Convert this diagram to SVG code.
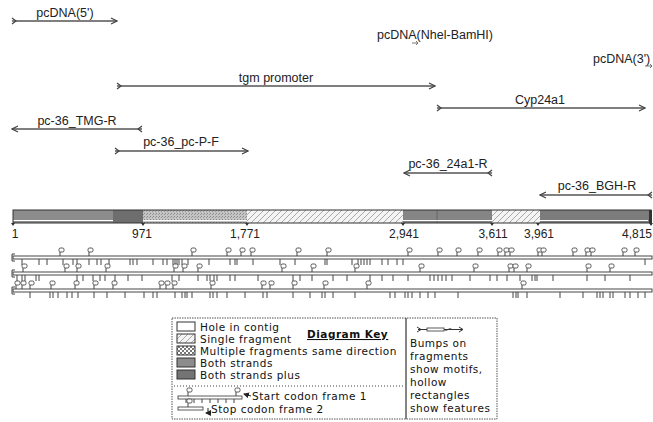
<svg xmlns="http://www.w3.org/2000/svg" width="653" height="422" viewBox="0 0 653 422">
<style>
.lbl{font-family:"Liberation Sans",Arial,sans-serif;font-size:12.5px;fill:#222}
.num{font-family:"Liberation Sans",Arial,sans-serif;font-size:12px;fill:#222}
.key{font-family:"DejaVu Sans","Liberation Sans",sans-serif;font-size:10.5px;letter-spacing:0.5px;fill:#111}
.feat{stroke:#555;stroke-width:1.3;fill:none;marker-end:url(#head);marker-start:url(#tail)}
.trk{fill:#fff;stroke:#333;stroke-width:0.9}
.tick{stroke:#444;stroke-width:1;fill:none}
.seg{stroke:none}
</style>
<defs>
<marker id="head" viewBox="0 0 8 8" refX="7" refY="4" markerWidth="8" markerHeight="8" markerUnits="userSpaceOnUse" orient="auto">
<path d="M1,1 L7,4 L1,7" fill="none" stroke="#444" stroke-width="1.2"/>
</marker>
<marker id="tail" viewBox="0 0 8 8" refX="1" refY="4" markerWidth="8" markerHeight="8" markerUnits="userSpaceOnUse" orient="auto">
<path d="M1,1 L5,4 L1,7" fill="none" stroke="#444" stroke-width="1.2"/>
</marker>
<marker id="lhead" viewBox="0 0 6 6" refX="5" refY="3" markerWidth="6" markerHeight="6" markerUnits="userSpaceOnUse" orient="auto">
<path d="M0,0 L6,3 L0,6 Z" fill="#222"/>
</marker>
<pattern id="hatch" width="6" height="6" patternUnits="userSpaceOnUse">
<rect width="6" height="6" fill="#f4f4f4"/>
<path d="M-1,7 L7,-1 M-1,1 L1,-1 M5,7 L7,5" stroke="#a8a8a8" stroke-width="1"/>
</pattern>
<pattern id="speck" width="3" height="3" patternUnits="userSpaceOnUse">
<rect width="3" height="3" fill="#c4c4c4"/>
<rect x="0" y="0" width="1" height="1" fill="#888"/>
<rect x="2" y="1" width="1" height="1" fill="#999"/>
</pattern>
<pattern id="check" width="4" height="4" patternUnits="userSpaceOnUse">
<rect width="4" height="4" fill="#fff"/>
<rect x="0" y="0" width="2" height="2" fill="#777"/>
<rect x="2" y="2" width="2" height="2" fill="#777"/>
</pattern>
<symbol id="bump" overflow="visible">
<rect x="-1" y="-9" width="5" height="4" rx="1.5" fill="#fff" stroke="#444" stroke-width="0.9"/>
<path d="M0,-5 V-1" stroke="#444" stroke-width="1"/>
</symbol>
</defs>

<g id="features">
<g id="f-pcdna5">
<text class="lbl" x="65" y="17" text-anchor="middle">pcDNA(5')</text>
<line class="feat" x1="12" y1="21" x2="117" y2="21"/>
</g>
<g id="f-nhei">
<text class="lbl" x="435" y="39" text-anchor="middle">pcDNA(Nhel-BamHI)</text>
<path d="M412,43 L418,43 M416,41 L418,43 L416,45" stroke="#555" stroke-width="0.8" fill="none"/>
</g>
<g id="f-pcdna3">
<text class="lbl" x="593" y="63">pcDNA(3')</text>
<path d="M645,66 L652,66 M650,64 L652,66 L650,68" stroke="#555" stroke-width="0.8" fill="none"/>
</g>
<g id="f-tgm">
<text class="lbl" x="276" y="82" text-anchor="middle">tgm promoter</text>
<line class="feat" x1="117" y1="86" x2="435" y2="86"/>
</g>
<g id="f-cyp">
<text class="lbl" x="540" y="104" text-anchor="middle">Cyp24a1</text>
<line class="feat" x1="437" y1="108" x2="645" y2="108"/>
</g>
<g id="f-tmgr">
<text class="lbl" x="77" y="125" text-anchor="middle">pc-36_TMG-R</text>
<line class="feat" x1="142" y1="129" x2="12" y2="129"/>
</g>
<g id="f-pcpf">
<text class="lbl" x="181" y="146" text-anchor="middle">pc-36_pc-P-F</text>
<line class="feat" x1="115" y1="151" x2="248" y2="151"/>
</g>
<g id="f-24a1r">
<text class="lbl" x="448" y="168" text-anchor="middle">pc-36_24a1-R</text>
<line class="feat" x1="492" y1="173" x2="404" y2="173"/>
</g>
<g id="f-bghr">
<text class="lbl" x="597" y="190" text-anchor="middle">pc-36_BGH-R</text>
<line class="feat" x1="652" y1="195" x2="540" y2="195"/>
</g>
</g>

<g id="contig">
<rect class="seg" x="13" y="210" width="100" height="13" fill="#8c8c8c"/>
<rect class="seg" x="113" y="210" width="30" height="13" fill="#6e6e6e"/>
<rect class="seg" x="143" y="210" width="104" height="13" fill="url(#speck)"/>
<rect class="seg" x="247" y="210" width="156" height="13" fill="url(#hatch)"/>
<rect class="seg" x="403" y="210" width="89" height="13" fill="#858585"/>
<rect class="seg" x="492" y="210" width="48" height="13" fill="url(#hatch)"/>
<rect class="seg" x="540" y="210" width="111" height="13" fill="#7c7c7c"/>
<line x1="437" y1="210" x2="437" y2="223" stroke="#666" stroke-width="1"/>
<path d="M13,220.5 H113 M143,220.5 H247 M403,220.5 H492 M540,220.5 H648" stroke="#fff" stroke-width="1.2"/>
<rect x="13" y="210" width="638" height="13" fill="none" stroke="#333" stroke-width="1"/>
<rect x="649" y="210" width="3" height="13" fill="#333"/>
<g fill="#333">
<path d="M11,223 h4 l-2,3 z M141,223 h4 l-2,3 z M245,223 h4 l-2,3 z M401,223 h4 l-2,3 z M490,223 h4 l-2,3 z M536,223 h4 l-2,3 z M649,223 h4 l-2,3 z"/>
</g>
<text class="num" x="15" y="238" text-anchor="middle">1</text>
<text class="num" x="142" y="238" text-anchor="middle">971</text>
<text class="num" x="245" y="238" text-anchor="middle">1,771</text>
<text class="num" x="404" y="238" text-anchor="middle">2,941</text>
<text class="num" x="493" y="238" text-anchor="middle">3,611</text>
<text class="num" x="539" y="238" text-anchor="middle">3,961</text>
<text class="num" x="652" y="238" text-anchor="end">4,815</text>
</g>

<g id="track1">
<rect class="trk" x="13" y="256" width="639" height="3"/>
<path class="tick" d="M12,254 V261 M12,254 H15 M12,261 H15"/>
<path class="tick" d="M22,259v6M39,259v6M47,259v6M63,259v6M73,259v6M77,259v6M89,259v6M97,259v6M101,259v6M109,259v6M130,259v6M133,259v6M137,259v6M153,259v6M163,259v6M167,259v6M173,259v6M175,259v6M177,259v6M179,259v6M182,259v6M188,259v6M209,259v6M230,259v6M235,259v6M237,259v6M253,259v6M280,259v6M295,259v6M325,259v6M327,259v6M352,259v6M358,259v6M361,259v6M364,259v6M367,259v6M370,259v6M382,259v6M388,259v6M397,259v6M403,259v6M645,259v6"/>
<g transform="translate(0,257)">
<use href="#bump" x="60"/><use href="#bump" x="89"/><use href="#bump" x="192"/><use href="#bump" x="227"/><use href="#bump" x="241"/><use href="#bump" x="251"/><use href="#bump" x="297"/><use href="#bump" x="327"/><use href="#bump" x="408"/><use href="#bump" x="438"/><use href="#bump" x="457"/><use href="#bump" x="478"/><use href="#bump" x="498"/><use href="#bump" x="505"/><use href="#bump" x="510"/><use href="#bump" x="538"/><use href="#bump" x="542"/><use href="#bump" x="573"/><use href="#bump" x="586"/><use href="#bump" x="591"/><use href="#bump" x="623"/><use href="#bump" x="635"/>
</g>
</g>

<g id="track2">
<rect class="trk" x="13" y="272" width="639" height="3"/>
<path class="tick" d="M12,270 V277 M12,270 H15 M12,277 H15"/>
<path class="tick" d="M17,275v6M22,275v6M25,275v6M36,275v6M39,275v6M77,275v6M83,275v6M93,275v6M100,275v6M105,275v6M115,275v6M128,275v6M142,275v6M172,275v6M179,275v6M198,275v6M207,275v6M210,275v6M214,275v6M217,275v6M230,275v6M235,275v6M258,275v6M293,275v6M300,275v6M312,275v6M333,275v6M347,275v6M370,275v6M382,275v6M393,275v6M408,275v6M430,275v6M434,275v6M438,275v6M442,275v6M446,275v6M452,275v6M470,275v6M490,275v6M497,275v6M507,275v6M520,275v6M532,275v6M535,275v6M537,275v6M553,275v6M587,275v6M605,275v6M630,275v6"/>
<g transform="translate(0,273)">
<use href="#bump" x="23"/><use href="#bump" x="65"/><use href="#bump" x="77"/><use href="#bump" x="106"/><use href="#bump" x="174"/><use href="#bump" x="183"/><use href="#bump" x="198"/><use href="#bump" x="282"/><use href="#bump" x="312"/><use href="#bump" x="355"/><use href="#bump" x="420"/><use href="#bump" x="474"/><use href="#bump" x="509"/><use href="#bump" x="514"/><use href="#bump" x="527"/><use href="#bump" x="587"/><use href="#bump" x="610"/>
</g>
</g>

<g id="track3">
<rect class="trk" x="13" y="289" width="639" height="3"/>
<path class="tick" d="M12,287 V294 M12,287 H15 M12,294 H15"/>
<path class="tick" d="M30,292v6M50,292v6M53,292v6M58,292v6M67,292v6M72,292v6M78,292v6M94,292v6M107,292v6M125,292v6M144,292v6M153,292v6M157,292v6M175,292v6M182,292v6M185,292v6M187,292v6M192,292v6M210,292v6M213,292v6M217,292v6M227,292v6M245,292v6M263,292v6M267,292v6M293,292v6M310,292v6M322,292v6M325,292v6M333,292v6M355,292v6M390,292v6M395,292v6M405,292v6M408,292v6M412,292v6M420,292v6M428,292v6M435,292v6M458,292v6M513,292v6M516,292v6M518,292v6M527,292v6M560,292v6M583,292v6M597,292v6M600,292v6M603,292v6M610,292v6M613,292v6M625,292v6M630,292v6M638,292v6M645,292v6"/>
<g transform="translate(0,290)">
<use href="#bump" x="16"/><use href="#bump" x="22"/><use href="#bump" x="30"/><use href="#bump" x="51"/><use href="#bump" x="75"/><use href="#bump" x="94"/><use href="#bump" x="113"/><use href="#bump" x="160"/><use href="#bump" x="166"/><use href="#bump" x="173"/><use href="#bump" x="211"/><use href="#bump" x="262"/><use href="#bump" x="270"/><use href="#bump" x="293"/><use href="#bump" x="324"/><use href="#bump" x="367"/><use href="#bump" x="522"/>
</g>
</g>

<g id="legend">
<rect x="172" y="318" width="325" height="101" fill="#fff" stroke="#555" stroke-width="1" stroke-dasharray="1.5 1"/>
<line x1="406" y1="318" x2="406" y2="419" stroke="#333" stroke-width="1.2"/>
<g id="key-hole">
<rect x="177" y="322" width="18" height="9" fill="#fff" stroke="#333"/>
<text class="key" x="200" y="331">Hole in contig</text>
</g>
<g id="key-single">
<rect x="177" y="334" width="18" height="9" fill="url(#hatch)" stroke="#333"/>
<text class="key" x="200" y="343">Single fragment</text>
</g>
<g id="key-multiple">
<rect x="177" y="346" width="18" height="9" fill="url(#check)" stroke="#333"/>
<text class="key" x="200" y="355">Multiple fragments same direction</text>
</g>
<g id="key-both">
<rect x="177" y="358" width="18" height="9" fill="#8c8c8c" stroke="#333"/>
<text class="key" x="200" y="367">Both strands</text>
</g>
<g id="key-plus">
<rect x="177" y="370" width="18" height="9" fill="#747474" stroke="#333"/>
<text class="key" x="200" y="379">Both strands plus</text>
</g>
<text class="key" x="307" y="338" font-weight="bold" text-decoration="underline">Diagram Key</text>
<line x1="174" y1="386" x2="404" y2="386" stroke="#444" stroke-width="1" stroke-dasharray="1 2"/>
<g id="key-start">
<rect x="178" y="396" width="64" height="3" fill="#fff" stroke="#333" stroke-width="0.8"/>
<path class="tick" d="M186,399v4M194,399v4M202,399v4M210,399v4M218,399v4M226,399v4M234,399v4"/>
<use href="#bump" x="188" y="397"/>
<use href="#bump" x="236" y="397"/>
<line x1="251" y1="396" x2="244" y2="394" stroke="#222" stroke-width="1" marker-end="url(#lhead)"/>
<text class="key" x="252" y="400">Start codon frame 1</text>
</g>
<g id="key-stop">
<rect x="178" y="407" width="25" height="3" fill="#fff" stroke="#333" stroke-width="0.8"/>
<use href="#bump" x="188" y="408"/>
<path d="M208,408 V413 H206" fill="none" stroke="#222" stroke-width="1" marker-end="url(#lhead)"/>
<text class="key" x="211" y="413">Stop codon frame 2</text>
</g>
<g id="key-note">
<path d="M417,327 L421,329.5 L417,332" fill="none" stroke="#333" stroke-width="1"/>
<line x1="418" y1="329.5" x2="463" y2="329.5" stroke="#333" stroke-width="1"/>
<rect x="427" y="328" width="17" height="3" fill="#fff" stroke="#333" stroke-width="0.8"/>
<path d="M444,329.5 q2,2 4,0 q2,-2 4,0" fill="none" stroke="#333" stroke-width="0.8"/>
<path d="M459,327 L463,329.5 L459,332" fill="none" stroke="#333" stroke-width="1"/>
<text class="key" x="410" y="347">Bumps on</text>
<text class="key" x="410" y="360">fragments</text>
<text class="key" x="410" y="373">show motifs,</text>
<text class="key" x="410" y="386">hollow</text>
<text class="key" x="410" y="399">rectangles</text>
<text class="key" x="410" y="412">show features</text>
</g>
</g>
</svg>
